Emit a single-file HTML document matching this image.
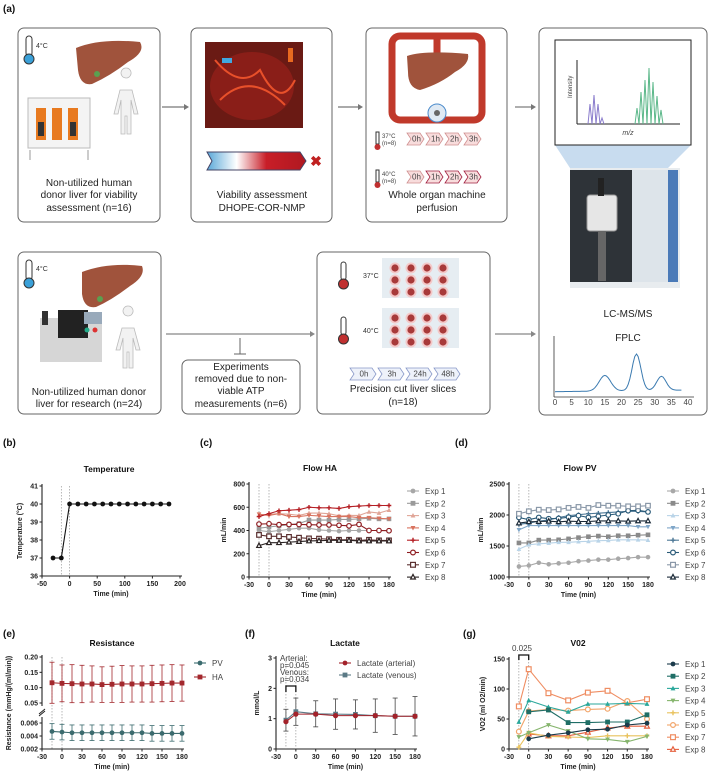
<!DOCTYPE html>
<html><head><meta charset="utf-8">
<style>
html,body{margin:0;padding:0;background:#fff;}
svg{display:block;font-family:"Liberation Sans",Arial,sans-serif;}
.tk{font-size:7px;font-weight:bold;fill:#222;}
.tt{font-size:8.5px;font-weight:bold;fill:#111;}
.lg{font-size:8px;fill:#444;}
.pl{font-size:10px;font-weight:bold;fill:#111;}
.it{font-size:10px;fill:#222;}
</style></head>
<body>
<svg id="fig" width="709" height="774" viewBox="0 0 709 774" xmlns="http://www.w3.org/2000/svg">
<!-- Panel (a) illustration -->
<g>
<text x="3" y="12" class="pl">(a)</text>
<!-- Box 1 -->
<g>
<rect x="18" y="28" width="142" height="194" rx="6" fill="#fff" stroke="#666" stroke-width="1"/>
<rect x="26" y="36" width="6" height="20" rx="3" fill="#fff" stroke="#333"/><circle cx="29" cy="59" r="5" fill="#3aa0d8" stroke="#333"/>
<text x="36" y="48" font-size="7" fill="#333">4°C</text>
<path d="M76,48 Q100,38 140,42 Q146,52 128,62 Q110,76 92,84 Q80,86 78,70 Z" fill="#a0533c"/>
<circle cx="97" cy="74" r="3" fill="#5aa050"/>
<path d="M126,78 a5,5 0 1,1 0.1,0 M120,90 h12 l6,24 h-4 l-3,-14 v34 h-4 v-18 h-2 v18 h-4 v-34 l-3,14 h-4 Z" fill="#f2f2f2" stroke="#bbb" stroke-width="0.8"/>
<rect x="28" y="98" width="62" height="50" fill="#f4f4f4" stroke="#bbb"/>
<rect x="36" y="108" width="10" height="32" fill="#e87a20"/><rect x="52" y="108" width="10" height="32" fill="#e87a20"/><rect x="68" y="108" width="10" height="32" fill="#e87a20"/>
<rect x="38" y="122" width="6" height="14" fill="#333"/><rect x="70" y="122" width="6" height="14" fill="#333"/>
<line x1="30" y1="150" x2="30" y2="160" stroke="#999"/><line x1="88" y1="150" x2="88" y2="160" stroke="#999"/>
<text x="89" y="186" class="it" text-anchor="middle">Non-utilized human</text>
<text x="89" y="198" class="it" text-anchor="middle">donor liver for viability</text>
<text x="89" y="211" class="it" text-anchor="middle">assessment (n=16)</text>
</g>
<line x1="162" y1="107" x2="184" y2="107" stroke="#777" stroke-width="1.2"/><path d="M184,104 L189,107 L184,110 Z" fill="#777"/>
<!-- Box 2 -->
<g>
<rect x="191" y="28" width="141" height="194" rx="6" fill="#fff" stroke="#666"/>
<rect x="205" y="42" width="98" height="86" fill="#6a1a14"/>
<ellipse cx="252" cy="86" rx="42" ry="34" fill="#8a1e18"/>
<path d="M215,60 Q240,90 260,70 Q280,110 295,80 M220,100 Q250,70 285,105" stroke="#e8502a" stroke-width="2" fill="none"/>
<rect x="222" y="58" width="10" height="5" fill="#40a8e0"/><rect x="288" y="48" width="5" height="14" fill="#e86a20"/>
<defs><linearGradient id="vg" x1="0" x2="1"><stop offset="0" stop-color="#5aa8d8"/><stop offset="0.3" stop-color="#fff"/><stop offset="0.6" stop-color="#c81e28"/><stop offset="1" stop-color="#b01820"/></linearGradient></defs>
<path d="M207,152 L300,152 L306,161 L300,170 L207,170 L212,161 Z" fill="url(#vg)" stroke="#446"/>
<text x="316" y="166" font-size="14" font-weight="bold" fill="#c02020" text-anchor="middle">✖</text>
<text x="262" y="198" class="it" text-anchor="middle">Viability assessment</text>
<text x="262" y="211" class="it" text-anchor="middle">DHOPE-COR-NMP</text>
</g>
<line x1="338" y1="107" x2="358" y2="107" stroke="#777" stroke-width="1.2"/><path d="M358,104 L363,107 L358,110 Z" fill="#777"/>
<!-- Box 3 -->
<g>
<rect x="366" y="28" width="141" height="194" rx="6" fill="#fff" stroke="#666"/>
<rect x="392" y="36" width="90" height="84" rx="8" fill="none" stroke="#c0392b" stroke-width="7"/>
<line x1="437" y1="36" x2="437" y2="80" stroke="#c0392b" stroke-width="7"/>
<path d="M407,56 Q425,50 468,54 Q470,64 455,72 Q440,84 420,90 Q408,88 408,72 Z" fill="#a0533c"/>
<circle cx="437" cy="113" r="9" fill="#dfe9f3" stroke="#4a8acb"/><circle cx="437" cy="113" r="3" fill="#666"/>
<g font-size="6" fill="#444">
<rect x="376" y="132" width="3" height="12" fill="#fff" stroke="#333"/><circle cx="377.5" cy="147" r="3" fill="#c03030"/>
<text x="382" y="138">37°C</text><text x="382" y="145">(n=8)</text>
<rect x="376" y="170" width="3" height="12" fill="#fff" stroke="#333"/><circle cx="377.5" cy="185" r="3" fill="#c03030"/>
<text x="382" y="176">40°C</text><text x="382" y="183">(n=8)</text>
</g>
<g id="chev3"></g>
<text x="437" y="198" class="it" text-anchor="middle">Whole organ machine</text>
<text x="437" y="211" class="it" text-anchor="middle">perfusion</text>
</g>
<line x1="515" y1="107" x2="531" y2="107" stroke="#777" stroke-width="1.2"/><path d="M531,104 L536,107 L531,110 Z" fill="#777"/>
<!-- Box 4 -->
<g>
<rect x="539" y="28" width="168" height="387" rx="6" fill="#fff" stroke="#666"/>
<path d="M555,145 L691,145 L668,168 L570,168 Z" fill="#c8dcef"/>
<rect x="555" y="40" width="136" height="105" fill="#fff" stroke="#222"/>
<line x1="577" y1="60" x2="577" y2="124" stroke="#222"/><line x1="577" y1="124" x2="680" y2="124" stroke="#222"/>
<text x="572" y="98" font-size="6" fill="#444" transform="rotate(-90 572 98)">Intensity</text>
<text x="628" y="135" font-size="7" font-style="italic" fill="#444" text-anchor="middle">m/z</text>
<path d="M588,124 L590,104 L592,124 L594,95 L596,124 L598,104 L600,124 L602,118 L604,124" stroke="#8a7ccc" fill="none"/>
<path d="M635,124 L637,108 L639,124 L641,92 L643,124 L645,80 L647,124 L649,68 L651,124 L653,82 L655,124 L657,96 L659,124 L661,110 L663,124" stroke="#5cb88a" fill="none"/>
<rect x="570" y="168" width="110" height="120" fill="#e8ecef"/>
<rect x="570" y="170" width="62" height="112" fill="#2e3338"/>
<rect x="632" y="170" width="38" height="112" fill="#dde4ea"/>
<rect x="668" y="170" width="10" height="112" fill="#4a7ab8"/>
<rect x="587" y="195" width="30" height="36" rx="3" fill="#e6e6e6" stroke="#999"/>
<rect x="598" y="178" width="6" height="18" fill="#222"/>
<rect x="598" y="231" width="8" height="50" fill="#666"/>
<text x="628" y="317" class="it" text-anchor="middle">LC-MS/MS</text>
<text x="628" y="341" class="it" text-anchor="middle">FPLC</text>
<g id="fplc"></g>
</g>
<!-- Box 5 -->
<g>
<rect x="18" y="252" width="143" height="162" rx="6" fill="#fff" stroke="#666"/>
<rect x="26" y="260" width="6" height="20" rx="3" fill="#fff" stroke="#333"/><circle cx="29" cy="283" r="5" fill="#3aa0d8" stroke="#333"/>
<text x="36" y="271" font-size="7" fill="#333">4°C</text>
<path d="M82,272 Q108,262 142,266 Q146,276 130,286 Q112,300 96,307 Q84,309 82,294 Z" fill="#a0533c"/>
<circle cx="100" cy="299" r="3" fill="#5aa050"/>
<path d="M128,316 a5,5 0 1,1 0.1,0 M122,328 h12 l6,22 h-4 l-3,-12 v30 h-4 v-16 h-2 v16 h-4 v-30 l-3,12 h-4 Z" fill="#f2f2f2" stroke="#bbb" stroke-width="0.8"/>
<rect x="40" y="318" width="62" height="44" fill="#d6d6d6"/><rect x="58" y="310" width="30" height="28" fill="#222"/>
<rect x="84" y="312" width="18" height="12" fill="#9ab"/><circle cx="87" cy="330" r="2.5" fill="#2a8"/><circle cx="95" cy="330" r="2.5" fill="#d33"/>
<rect x="42" y="311" width="6" height="14" fill="#333"/>
<text x="89" y="395" class="it" text-anchor="middle">Non-utilized human donor</text>
<text x="89" y="407" class="it" text-anchor="middle">liver for research (n=24)</text>
</g>
<line x1="166" y1="334" x2="310" y2="334" stroke="#888" stroke-width="1.2"/><path d="M310,331 L315,334 L310,337 Z" fill="#888"/>
<line x1="240" y1="338" x2="240" y2="354" stroke="#666"/><line x1="234" y1="354" x2="246" y2="354" stroke="#666"/>
<g>
<rect x="182" y="360" width="118" height="54" rx="6" fill="#fff" stroke="#666"/>
<text x="241" y="370" class="it" text-anchor="middle">Experiments</text>
<text x="241" y="382" class="it" text-anchor="middle">removed due to non-</text>
<text x="241" y="394" class="it" text-anchor="middle">viable ATP</text>
<text x="241" y="407" class="it" text-anchor="middle">measurements (n=6)</text>
</g>
<g>
<rect x="317" y="252" width="173" height="162" rx="6" fill="#fff" stroke="#666"/>
<rect x="341" y="262" width="5" height="18" rx="2.5" fill="#fff" stroke="#333"/><circle cx="343.5" cy="284" r="5" fill="#c03030" stroke="#333"/>
<text x="363" y="278" font-size="7" fill="#333">37°C</text>
<rect x="341" y="317" width="5" height="18" rx="2.5" fill="#fff" stroke="#333"/><circle cx="343.5" cy="339" r="5" fill="#c03030" stroke="#333"/>
<text x="363" y="333" font-size="7" fill="#333">40°C</text>
<rect x="382" y="258" width="77" height="40" fill="#e6edf2"/>
<rect x="382" y="308" width="77" height="40" fill="#e6edf2"/>
<g id="wells"></g>
<g id="chev7"></g>
<text x="403" y="392" class="it" text-anchor="middle">Precision cut liver slices</text>
<text x="403" y="405" class="it" text-anchor="middle">(n=18)</text>
</g>
<line x1="495" y1="334" x2="531" y2="334" stroke="#888" stroke-width="1.2"/><path d="M531,331 L536,334 L531,337 Z" fill="#888"/>
</g>
<g id="charts"></g>
</svg>
<script>
// ===== data =====
const tempTimes=[-30,-15,0,15,30,45,60,75,90,105,120,135,150,165,180];
const tempValues=[37,37,40,40,40,40,40,40,40,40,40,40,40,40,40];
const flowTimes=[-15,0,15,30,45,60,75,90,105,120,135,150,165,180];
const expNames=["Exp 1","Exp 2","Exp 3","Exp 4","Exp 5","Exp 6","Exp 7","Exp 8"];
const haExp1=[400,390,400,410,420,420,405,400,395,400,400,400,400,400];
const haExp2=[420,430,440,450,460,490,490,490,495,495,500,505,500,500];
const haExp3=[530,540,545,540,530,550,550,545,525,530,530,560,550,575];
const haExp4=[540,530,545,520,520,530,525,520,520,520,510,510,505,500];
const haExp5=[520,545,570,575,580,600,595,595,590,605,610,615,615,615];
const haExp6=[455,458,450,452,452,450,448,448,445,440,452,400,400,398];
const haExp7=[362,350,350,345,338,332,330,325,320,320,315,320,315,315];
const haExp8=[270,295,295,300,305,310,312,315,315,315,310,310,310,310];
const pvExp1=[1170,1185,1230,1205,1220,1230,1255,1265,1280,1280,1295,1305,1320,1320];
const pvExp2=[1550,1550,1595,1595,1600,1615,1635,1650,1660,1650,1665,1665,1675,1680];
const pvExp3=[1450,1520,1535,1545,1560,1560,1570,1575,1585,1590,1600,1600,1600,1595];
const pvExp4=[1760,1830,1830,1830,1830,1830,1830,1830,1830,1830,1830,1830,1810,1810];
const pvExp5=[1850,1870,1900,1920,1960,1990,2005,2020,2030,2040,2050,2060,2060,2050];
const pvExp6=[1960,1925,1960,1940,1945,1965,1990,1960,1980,2000,2020,2070,2075,2050];
const pvExp7=[2020,2060,2085,2080,2090,2115,2130,2115,2160,2150,2150,2140,2140,2150];
const pvExp8=[1870,1890,1895,1900,1890,1900,1895,1895,1905,1905,1905,1900,1905,1905];
const resPVMean=[0.0047,0.0046,0.0045,0.0045,0.0045,0.0045,0.0045,0.0045,0.0045,0.0045,0.0044,0.0044,0.0044,0.0044];
const resPVSd=[0.0012,0.0012,0.0012,0.0012,0.0012,0.0012,0.0012,0.0012,0.0012,0.0012,0.0012,0.0012,0.0012,0.0012];
const resHAMean=[0.116,0.114,0.113,0.112,0.112,0.110,0.111,0.112,0.112,0.112,0.113,0.114,0.115,0.115];
const resHASd=[0.067,0.060,0.062,0.061,0.059,0.058,0.059,0.060,0.059,0.059,0.060,0.060,0.060,0.059];
const lacTimes=[-15,0,30,60,90,120,150,180];
const lacArtMean=[0.9,1.15,1.15,1.1,1.1,1.1,1.08,1.08];
const lacVenMean=[0.95,1.23,1.16,1.15,1.14,1.1,1.08,1.08];
const lacSd=[0.36,0.45,0.43,0.5,0.48,0.55,0.6,0.65];
const vo2Times=[-15,0,30,60,90,120,150,180];
const vo2Exp1=[null,17,23,27,32,33,40,43];
const vo2Exp2=[null,62,65,44,44,45,45,57];
const vo2Exp3=[45,81,70,62,75,75,76,75];
const vo2Exp4=[20,27,40,30,17,16,12,21];
const vo2Exp5=[3,27,21,20,19,22,22,22];
const vo2Exp6=[29,63,66,64,66,67,80,50];
const vo2Exp7=[71,133,93,81,94,97,77,83];
const vo2Exp8=[null,25,22,22,28,35,38,38];
const fplcTicks=[0,5,10,15,20,25,30,35,40];

const NS="http://www.w3.org/2000/svg";
const charts=document.getElementById('charts');
function el(tag,attrs,parent){const e=document.createElementNS(NS,tag);for(const k in attrs)e.setAttribute(k,attrs[k]);(parent||charts).appendChild(e);return e;}
function txt(s,x,y,cls,anchor,parent,extra){const t=el('text',Object.assign({x:x,y:y,class:cls,'text-anchor':anchor||'start'},extra||{}),parent);t.textContent=s;return t;}
function lin(d0,d1,r0,r1){return v=>r0+(v-d0)/(d1-d0)*(r1-r0);}

function marker(g,shape,x,y,c,s){
  s=s||2.6;let m;
  if(shape==='circle')m=el('circle',{cx:x,cy:y,r:s,fill:c},g);
  else if(shape==='ocircle')m=el('circle',{cx:x,cy:y,r:s,fill:'#fff',stroke:c,'stroke-width':1.2},g);
  else if(shape==='square')m=el('rect',{x:x-s,y:y-s,width:2*s,height:2*s,fill:c},g);
  else if(shape==='osquare')m=el('rect',{x:x-s,y:y-s,width:2*s,height:2*s,fill:'#fff',stroke:c,'stroke-width':1.2},g);
  else if(shape==='tri')m=el('path',{d:`M${x},${y-s*1.1}L${x+s},${y+s*0.8}L${x-s},${y+s*0.8}Z`,fill:c},g);
  else if(shape==='otri')m=el('path',{d:`M${x},${y-s*1.1}L${x+s},${y+s*0.8}L${x-s},${y+s*0.8}Z`,fill:'#fff',stroke:c,'stroke-width':1.2},g);
  else if(shape==='dtri')m=el('path',{d:`M${x},${y+s*1.1}L${x+s},${y-s*0.8}L${x-s},${y-s*0.8}Z`,fill:c},g);
  else if(shape==='plus'){m=el('path',{d:`M${x-s},${y}H${x+s}M${x},${y-s}V${y+s}`,stroke:c,'stroke-width':1.4},g);}
  return m;
}

function axes(o){
  const g=el('g',{});
  
  
  el('line',{x1:o.x0,y1:o.yTop-2,x2:o.x0,y2:o.yBot,stroke:'#222','stroke-width':1.1},g);
  el('line',{x1:o.x0,y1:o.yBot,x2:o.x1+2,y2:o.yBot,stroke:'#222','stroke-width':1.1},g);
  o.xticks.forEach(t=>{const x=o.sx(t);el('line',{x1:x,y1:o.yBot,x2:x,y2:o.yBot+2.5,stroke:'#222'},g);txt(String(t),x,o.yBot+10,'tk','middle',g);});
  if(o.yticks)o.yticks.forEach(t=>{const y=o.sy(t);el('line',{x1:o.x0-2.5,y1:y,x2:o.x0,y2:y,stroke:'#222'},g);txt(o.yfmt?o.yfmt(t):String(t),o.x0-4,y+2.5,'tk','end',g);});
  if(o.vlines)o.vlines.forEach(t=>{const x=o.sx(t);el('line',{x1:x,y1:o.yTop,x2:x,y2:o.yBot,stroke:'#999','stroke-width':0.7,'stroke-dasharray':'1.5,1.5'},g);});
  txt('Time (min)',(o.x0+o.x1)/2,o.yBot+20,'tk','middle',g,{'font-size':'8'});
  return g;
}
function series(name,times,vals,sx,sy,color,shape,size){
  const g=el('g',{});
  
  
  let d='';times.forEach((t,i)=>{if(vals[i]==null)return;d+=(d?'L':'M')+sx(t)+','+sy(vals[i]);});
  el('path',{d:d,fill:'none',stroke:color,'stroke-width':1.1},g);
  times.forEach((t,i)=>{if(vals[i]==null)return;const m=marker(g,shape,sx(t),sy(vals[i]),color,size);});
}
function legend(x,y0,step,names,colors,shapes,name){
  const g=el('g',{});
  
  
  names.forEach((n,i)=>{const y=y0+i*step;const it=el('g',{},g);
    
    
    el('line',{x1:x-6,y1:y,x2:x+6,y2:y,stroke:colors[i],'stroke-width':1.1},it);marker(it,shapes[i],x,y,colors[i],2.4);txt(n,x+12,y+3,'lg','start',it);});
}

// ===== (b) Temperature =====
txt('(b)',3,446,'pl');
txt('Temperature',109,472,'tt','middle',charts,{'font-weight':'normal'});
{const sx=lin(-50,200,42,180),sy=lin(36,41,576,486);
axes({name:'temperature',x0:42,x1:180,yTop:486,yBot:576,sx,sy,xticks:[-50,0,50,100,150,200],yticks:[36,37,38,39,40,41],vlines:[-15,0]});
txt('Temperature (°C)',22,531,'tk','middle',charts,{transform:'rotate(-90 22 531)','font-size':'7.5'});
series('temperature-line',tempTimes,tempValues,sx,sy,'#111','circle',2.4);}

// ===== (c) Flow HA =====
txt('(c)',200,446,'pl');
txt('Flow HA',320,471,'tt','middle');
const haColors=['#a7a7a7','#9a9a9a','#e0a597','#d9735f','#b51f24','#8e1c20','#5b3030','#2a2222'];
const haShapes=['circle','square','tri','dtri','plus','ocircle','osquare','otri'];
const haData=[haExp1,haExp2,haExp3,haExp4,haExp5,haExp6,haExp7,haExp8];
{const sx=lin(-30,180,249,389),sy=lin(0,800,577,484);
axes({name:'flow-ha',x0:249,x1:389,yTop:484,yBot:577,sx,sy,xticks:[-30,0,30,60,90,120,150,180],yticks:[0,200,400,600,800],vlines:[-15,0]});
txt('mL/min',226,530,'tk','middle',charts,{transform:'rotate(-90 226 530)','font-size':'7.5'});
haData.forEach((v,i)=>series('flow-ha-exp'+(i+1),flowTimes,v,sx,sy,haColors[i],haShapes[i],2.3));
legend(413,491,12.3,expNames,haColors,haShapes,'flow-ha-legend');}

// ===== (d) Flow PV =====
txt('(d)',455,446,'pl');
txt('Flow PV',580,471,'tt','middle');
const pvColors=['#a8a8a8','#8a8a8a','#b9d4e8','#7fa6c8','#4d7896','#2a5a78','#8a98a8','#1b2a38'];
const pvShapes=['circle','square','tri','dtri','plus','ocircle','osquare','otri'];
const pvData=[pvExp1,pvExp2,pvExp3,pvExp4,pvExp5,pvExp6,pvExp7,pvExp8];
{const sx=lin(-30,180,509,648),sy=lin(1000,2500,577,484);
axes({name:'flow-pv',x0:509,x1:648,yTop:484,yBot:577,sx,sy,xticks:[-30,0,30,60,90,120,150,180],yticks:[1000,1500,2000,2500],vlines:[-15,0]});
txt('mL/min',483,530,'tk','middle',charts,{transform:'rotate(-90 483 530)','font-size':'7.5'});
pvData.forEach((v,i)=>series('flow-pv-exp'+(i+1),flowTimes,v,sx,sy,pvColors[i],pvShapes[i],2.3));
legend(673,491,12.3,expNames,pvColors,pvShapes,'flow-pv-legend');}

// ===== (e) Resistance (broken axis) =====
txt('(e)',3,637,'pl');
txt('Resistance',112,646,'tt','middle');
{const sx=lin(-30,180,42,182);
 const sy=v=>v<=0.01? 749-(v-0.002)/0.004*26 : 657+(0.20-v)/0.15*46;
 const g=axes({name:'resistance',x0:42,x1:182,yTop:657,yBot:749,sx,sy,xticks:[-30,0,30,60,90,120,150,180],yticks:[0.002,0.004,0.006,0.05,0.10,0.15,0.20],yfmt:v=>v<0.01?v.toFixed(3):v.toFixed(2),vlines:[-15,0]});
 el('rect',{x:39,y:706,width:6,height:11,fill:'#fff'},g);
 el('line',{x1:39,y1:714,x2:45,y2:709,stroke:'#222'},g);el('line',{x1:39,y1:716,x2:45,y2:711,stroke:'#222'},g);
 txt('Resistance (mmHg/(ml/min))',11,703,'tk','middle',charts,{transform:'rotate(-90 11 703)','font-size':'7.5'});
 function errs(name,mean,sd,color,shape){const g2=el('g',{});
   flowTimes.forEach((t,i)=>{const x=sx(t),y1=sy(mean[i]+sd[i]),y2=sy(mean[i]-sd[i]);el('line',{x1:x,y1:y1,x2:x,y2:y2,stroke:color,'stroke-width':0.8},g2);el('line',{x1:x-2.5,y1:y1,x2:x+2.5,y2:y1,stroke:color,'stroke-width':0.8},g2);el('line',{x1:x-2.5,y1:y2,x2:x+2.5,y2:y2,stroke:color,'stroke-width':0.8},g2);});
   series(name,flowTimes,mean,sx,sy,color,shape,2.4);}
 errs('resistance-ha',resHAMean,resHASd,'#a3282d','square');
 errs('resistance-pv',resPVMean,resPVSd,'#3b6b6e','circle');
 legend(200,663,14,['PV','HA'],['#3b6b6e','#a3282d'],['circle','square'],'resistance-legend');}

// ===== (f) Lactate =====
txt('(f)',245,637,'pl');
txt('Lactate',345,646,'tt','middle');
{const sx=lin(-30,180,276,415),sy=lin(0,3,749,658);
 axes({name:'lactate',x0:276,x1:415,yTop:658,yBot:749,sx,sy,xticks:[-30,0,30,60,90,120,150,180],yticks:[0,1,2,3],vlines:[-15,0]});
 txt('mmol/L',259,703,'tk','middle',charts,{transform:'rotate(-90 259 703)','font-size':'7.5'});
 const g2=el('g',{});
 lacTimes.forEach((t,i)=>{const x=sx(t),m=Math.max(lacArtMean[i],lacVenMean[i]),y1=sy(m+lacSd[i]),y2=sy(m-lacSd[i]);
   el('line',{x1:x,y1:y1,x2:x,y2:y2,stroke:'#444','stroke-width':0.8},g2);el('line',{x1:x-2.5,y1:y1,x2:x+2.5,y2:y1,stroke:'#444','stroke-width':0.8},g2);el('line',{x1:x-2.5,y1:y2,x2:x+2.5,y2:y2,stroke:'#444','stroke-width':0.8},g2);});
 series('lactate-venous',lacTimes,lacVenMean,sx,sy,'#5b7a86','square',2.4);
 series('lactate-arterial',lacTimes,lacArtMean,sx,sy,'#a3222a','circle',2.6);
 legend(345,663,12,['Lactate (arterial)','Lactate (venous)'],['#a3222a','#5b7a86'],['circle','square'],'lactate-legend');
 txt('Arterial:',280,661,'lg','start',charts,{'font-size':'6',fill:'#a3222a'});
 txt('p=0.045',280,668,'lg','start',charts,{'font-size':'6'});
 txt('Venous:',280,675,'lg','start',charts,{'font-size':'6',fill:'#5b8a96'});
 txt('p=0.034',280,682,'lg','start',charts,{'font-size':'6'});
 el('path',{d:`M${sx(-15)},692V686H${sx(0)}V692`,fill:'none',stroke:'#111','stroke-width':1.3});}

// ===== (g) VO2 =====
txt('(g)',463,637,'pl');
txt('V02',578,646,'tt','middle');
const vo2Colors=['#1b3b4b','#1f6e66','#2aa79b','#86b56d','#e9c25d','#f2a56a','#ef8d62','#e5603f'];
const vo2Shapes=['circle','square','tri','dtri','plus','ocircle','osquare','otri'];
const vo2Data=[vo2Exp1,vo2Exp2,vo2Exp3,vo2Exp4,vo2Exp5,vo2Exp6,vo2Exp7,vo2Exp8];
{const sx=lin(-30,180,509,647),sy=lin(0,150,749,659);
 axes({name:'vo2',x0:509,x1:647,yTop:659,yBot:749,sx,sy,xticks:[-30,0,30,60,90,120,150,180],yticks:[0,50,100,150],vlines:[-15,0]});
 txt('VO2 (ml O2/min)',485,704,'tk','middle',charts,{transform:'rotate(-90 485 704)','font-size':'7.5'});
 [7,6,5,4,3,2,1,0].forEach(i=>series('vo2-exp'+(i+1),vo2Times,vo2Data[i],sx,sy,vo2Colors[i],vo2Shapes[i],2.4));
 legend(673,664,12.2,expNames,vo2Colors,vo2Shapes,'vo2-legend');
 el('path',{d:`M${sx(-15)},660V655H${sx(0)}V660`,fill:'none',stroke:'#111','stroke-width':1.3});
 txt('0.025',522,651,'lg','middle',charts,{'font-size':'7.5'});}

// ===== illustration extras =====
function chevrons(gid,x0,y,w,h,labels,fills,strokes){const g=document.getElementById(gid);
  labels.forEach((l,i)=>{const x=x0+i*(w+2);el('path',{d:`M${x},${y}H${x+w-4}L${x+w},${y+h/2}L${x+w-4},${y+h}H${x}L${x+4},${y+h/2}Z`,fill:fills[i],stroke:strokes[i],'stroke-width':0.8},g);
   txt(l,x+w/2+1,y+h/2+2.5,'lg','middle',g,{'font-size':'6'});});}
chevrons('chev3',407,133,17,12,['0h','1h','2h','3h'],['#f8dcdc','#f8dcdc','#f8dcdc','#f8dcdc'],['#d09090','#d09090','#d09090','#d09090']);
chevrons('chev3',407,171,17,12,['0h','1h','2h','3h'],['#f8dcdc','#f8dcdc','#f8dcdc','#f8dcdc'],['#d09090','#a02040','#a02040','#a02040']);
chevrons('chev7',350,368,26,12,['0h','3h','24h','48h'],['#eef2fa','#eef2fa','#eef2fa','#eef2fa'],['#8898c8','#8898c8','#8898c8','#8898c8']);
{const g=document.getElementById('wells');[262,312].forEach(y0=>{for(let r=0;r<3;r++)for(let c=0;c<4;c++){const x=395+c*16,y=y0+6+r*12;el('circle',{cx:x,cy:y,r:5.5,fill:'#f4c8c8'},g);el('circle',{cx:x,cy:y,r:3.6,fill:'#a83a3a'},g);}});}
{const g=document.getElementById('fplc');const sx=lin(0,40,555,688);
 el('line',{x1:554,y1:336,x2:554,y2:397,stroke:'#333','stroke-width':0.8},g);el('line',{x1:554,y1:397,x2:694,y2:397,stroke:'#333','stroke-width':0.8},g);
 fplcTicks.forEach(t=>txt(String(t),sx(t),405,'lg','middle',g,{'font-size':'5'}));
 let d='';for(let t=0;t<=38;t+=0.5){const v=3+2*t/38+20*Math.exp(-((t-15)**2)/6)+47*Math.exp(-((t-24.5)**2)/3.5)+18*Math.exp(-((t-32)**2)/4);d+=(d?'L':'M')+sx(t).toFixed(1)+','+(394-v*0.78).toFixed(1);}
 el('path',{d:d,fill:'none',stroke:'#3a7ab0','stroke-width':1},g);}
</script>
</body></html>
